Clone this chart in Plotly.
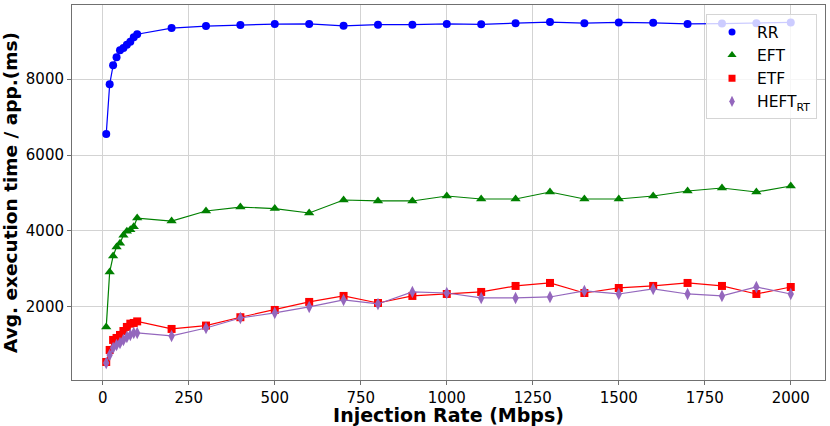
import plotly.graph_objects as go

x = [10, 20, 30, 40, 50, 60, 70, 80, 90, 100,
     200, 300, 400, 500, 600, 700, 800, 900, 1000, 1100,
     1200, 1300, 1400, 1500, 1600, 1700, 1800, 1900, 2000]

rr = [6550, 7860, 8360, 8570, 8760, 8820, 8900, 8980, 9100, 9180,
      9340, 9395, 9420, 9447, 9450, 9400, 9430, 9430, 9450, 9440,
      9470, 9500, 9470, 9490, 9480, 9450, 9460, 9470, 9490]

eft = [1470, 2920, 3340, 3580, 3680, 3890, 3990, 4030, 4110, 4340,
       4260, 4526, 4630, 4590, 4474, 4816, 4790, 4790, 4921, 4842,
       4842, 5026, 4842, 4842, 4921, 5053, 5132, 5026, 5184]

etf = [552, 868, 1132, 1184, 1263, 1368, 1474, 1560, 1579, 1620,
       1421, 1510, 1730, 1921, 2132, 2290, 2105, 2290, 2342, 2395,
       2553, 2632, 2368, 2500, 2553, 2632, 2553, 2342, 2526]

heft = [526, 737, 921, 1000, 1053, 1132, 1210, 1263, 1316, 1316,
        1237, 1447, 1710, 1842, 2000, 2184, 2079, 2395, 2368, 2237,
        2237, 2263, 2421, 2342, 2474, 2342, 2290, 2526, 2342]

names = ["RR", "EFT", "ETF", "HEFT<sub>RT</sub>"]
colors = ["#0000ff", "#008000", "#ff0000", "#9467bd"]
symbols = ["circle", "triangle-up", "square", "diamond-tall"]
sizes = [8, 9, 8, 9]
series = [rr, eft, etf, heft]

fig = go.Figure()
for s, n, c, sym, sz in zip(series, names, colors, symbols, sizes):
    fig.add_trace(go.Scatter(
        x=x, y=s, mode="lines+markers", name=n, showlegend=False,
        line=dict(color=c, width=1.2),
        marker=dict(color=c, symbol=sym, size=sz, line=dict(width=0)),
    ))
for i, (n, c, sym, sz) in enumerate(zip(names, colors, symbols, sizes)):
    fig.add_trace(go.Scatter(
        x=[None], y=[None], mode="markers", name=n,
        marker=dict(color=c, symbol=sym, size=sz - 1, line=dict(width=0)),
    ))

ymin = min(min(s) for s in series)
ymax = max(max(s) for s in series)
yspan = ymax - ymin
xspan = x[-1] - x[0]

fig.update_layout(
    width=830, height=426,
    margin=dict(l=72, r=5, t=5, b=46, autoexpand=False),
    paper_bgcolor="white", plot_bgcolor="white",
    font=dict(family="DejaVu Sans", size=15, color="black"),
    legend=dict(
        x=0.9894, y=0.975, xanchor="right", yanchor="top",
        bgcolor="rgba(255,255,255,0.8)", bordercolor="#d5d5d5", borderwidth=1,
        font=dict(size=15.5), itemwidth=40, tracegroupgap=0,
    ),
    xaxis=dict(
        range=[x[0] - 0.05 * xspan, x[-1] + 0.05 * xspan],
        tickvals=[0, 250, 500, 750, 1000, 1250, 1500, 1750, 2000],
        showgrid=True, gridcolor="#d3d3d3", gridwidth=1,
        showline=True, linecolor="#707070", linewidth=1, mirror=True,
        ticks="outside", ticklen=4, tickcolor="#707070",
        zeroline=False, automargin=False,
        title=dict(text="<b>Injection Rate (Mbps)</b>", font=dict(size=19), standoff=0),
    ),
    yaxis=dict(
        range=[ymin - 0.05 * yspan, ymax + 0.05 * yspan],
        tickvals=[2000, 4000, 6000, 8000],
        showgrid=True, gridcolor="#d3d3d3", gridwidth=1,
        showline=True, linecolor="#707070", linewidth=1, mirror=True,
        ticks="outside", ticklen=4, tickcolor="#707070",
        zeroline=False, automargin=False,
        title=dict(text="<b>Avg. execution time / app.(ms)</b>", font=dict(size=18.5), standoff=4),
    ),
)

fig.write_html(
    "out.html",
    config={"displayModeBar": False},
    post_script="document.body.style.margin='0px';document.body.style.overflow='hidden';",
)
